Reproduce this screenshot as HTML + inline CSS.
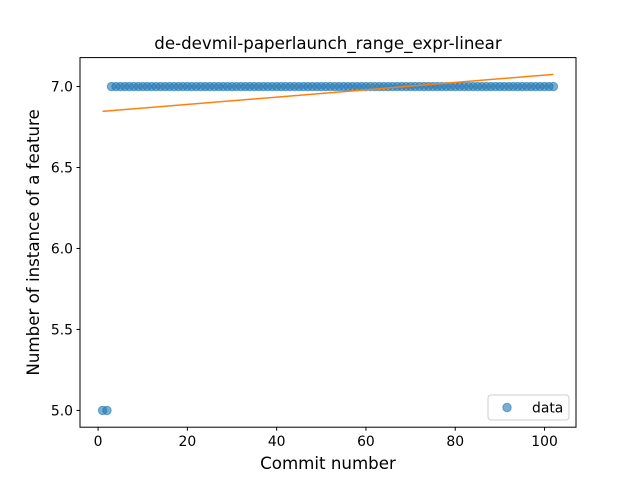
<!DOCTYPE html>
<html><head><meta charset="utf-8"><style>
body{margin:0;background:#fff}
svg{font-family:"DejaVu Sans","Liberation Sans",sans-serif}
</style></head><body>
<svg id="chart" width="640" height="480">
<rect width="640" height="480" fill="#fff"/>
<text x="328" y="49" text-anchor="middle" font-size="16.67">de-devmil-paperlaunch_range_expr-linear</text>
<g id="plot"></g>
<rect x="80" y="57.6" width="496" height="369.6" fill="none" stroke="#000" stroke-width="1"/>
<g id="axes" font-size="13.9"></g>
<text x="328" y="469" text-anchor="middle" font-size="16.67">Commit number</text>
<text transform="translate(39,242.4) rotate(-90)" text-anchor="middle" font-size="16.67">Number of instance of a feature</text>
<g>
<rect x="488" y="395" width="81" height="25" rx="3" fill="#fff" fill-opacity="0.8" stroke="#ccc"/>
<circle cx="507" cy="407.5" r="4.2" fill="#1f77b4" fill-opacity="0.6" stroke="#1f77b4" stroke-opacity="0.6"/>
<text x="532" y="412.5" font-size="13.9">data</text>
</g>
</svg>
<script>
const xs = [];
for (let i = 1; i <= 102; i++) xs.push(i);
const ys = [5,5,7,7,7,7,7,7,7,7,7,7,7,7,7,7,7,7,7,7,7,7,7,7,7,7,7,7,7,7,7,7,7,7,7,7,7,7,7,7,7,7,7,7,7,7,7,7,7,7,7,7,7,7,7,7,7,7,7,7,7,7,7,7,7,7,7,7,7,7,7,7,7,7,7,7,7,7,7,7,7,7,7,7,7,7,7,7,7,7,7,7,7,7,7,7,7,7,7,7,7,7];
const xTicks = [0,20,40,60,80,100];
const yTicks = [5.0,5.5,6.0,6.5,7.0];
const NS="http://www.w3.org/2000/svg";
const n=ys.length;
const mx=xs.reduce((a,b)=>a+b,0)/n, my=ys.reduce((a,b)=>a+b,0)/n;
let sxy=0,sxx=0;for(let i=0;i<n;i++){sxy+=(xs[i]-mx)*(ys[i]-my);sxx+=(xs[i]-mx)**2;}
const slope=sxy/sxx, icpt=my-slope*mx;
const x0=Math.min(...xs),x1=Math.max(...xs);
const fy0=icpt+slope*x0, fy1=icpt+slope*x1;
const ymin=Math.min(...ys,fy0,fy1), ymax=Math.max(...ys,fy0,fy1);
const xm=(x1-x0)*0.05, ym=(ymax-ymin)*0.05;
const X=v=>80+(v-(x0-xm))/((x1+xm)-(x0-xm))*496;
const Y=v=>427.2-(v-(ymin-ym))/((ymax+ym)-(ymin-ym))*369.6;
const plot=document.getElementById('plot'), axes=document.getElementById('axes');
function mk(t,a,p){const e=document.createElementNS(NS,t);for(const k in a)e.setAttribute(k,a[k]);p.appendChild(e);return e;}
for(let i=0;i<n;i++){
 const c=mk('circle',{cx:X(xs[i]),cy:Y(ys[i]),r:4.2,fill:'#1f77b4','fill-opacity':0.6,stroke:'#1f77b4','stroke-opacity':0.6},plot);
 
 
}
const fl=mk('line',{x1:X(x0),y1:Y(fy0),x2:X(x1),y2:Y(fy1),stroke:'#ff7f0e','stroke-width':1.5},plot);


xTicks.forEach(t=>{
 const x=X(t);
 const l=mk('line',{x1:x,y1:427.2,x2:x,y2:430.7,stroke:'#000'},axes);
 
 
 const tx=mk('text',{x:x,y:446,'text-anchor':'middle'},axes);tx.textContent=t;
 
 
});
yTicks.forEach(t=>{
 const y=Y(t);
 const l=mk('line',{x1:76.5,y1:y,x2:80,y2:y,stroke:'#000'},axes);
 
 
 const tx=mk('text',{x:73,y:y+5,'text-anchor':'end'},axes);tx.textContent=t.toFixed(1);
 
 
});
</script>
</body></html>
